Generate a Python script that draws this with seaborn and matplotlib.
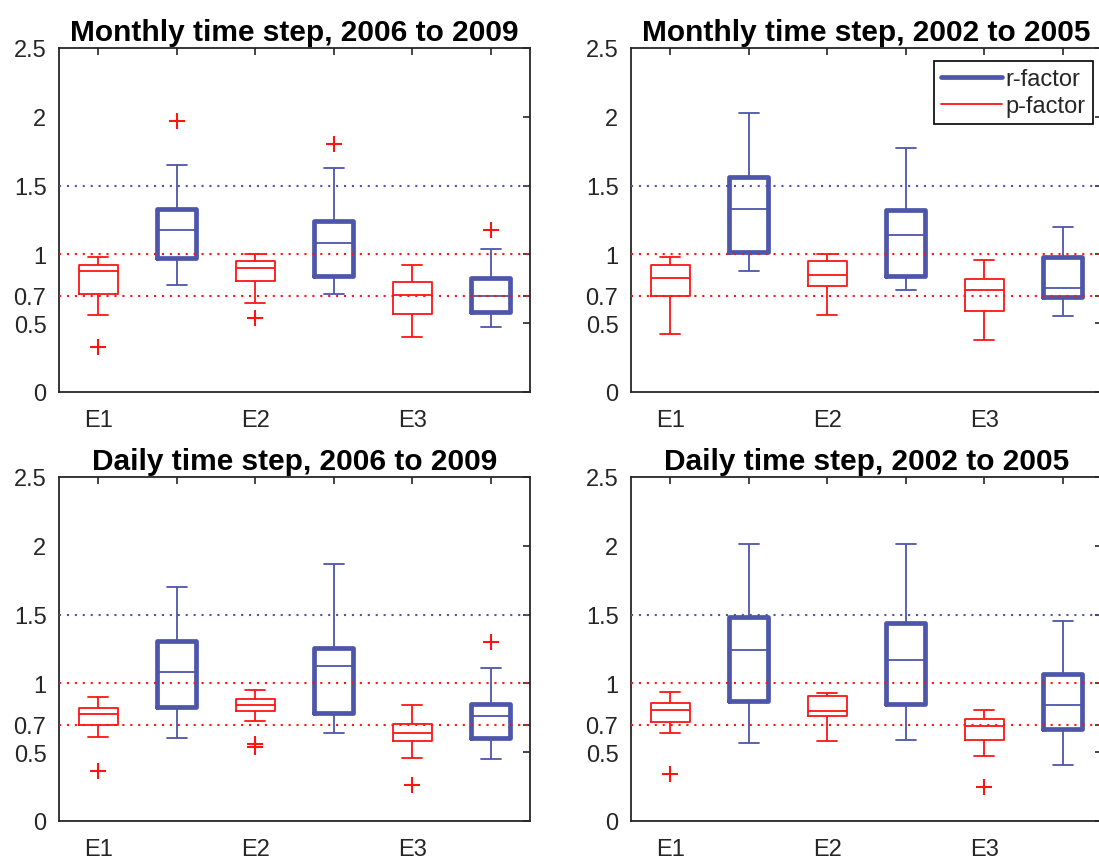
import numpy as np
import pandas as pd
import matplotlib
matplotlib.use("Agg")
import matplotlib.pyplot as plt
from matplotlib.lines import Line2D
import seaborn as sns

sns.set_style("white")
plt.rcParams["font.family"] = ["Liberation Sans", "DejaVu Sans"]

# box slots, p-factor and r-factor per experiment
slots = ["E1 p", "E1 r", "E2 p", "E2 r", "E3 p", "E3 r"]
slot_labels = ["E1", "", "E2", "", "E3", ""]
titles = ["Monthly time step, 2006 to 2009", "Monthly time step, 2002 to 2005",
          "Daily time step, 2006 to 2009", "Daily time step, 2002 to 2005"]

# each box: whisker low, Q1, median, Q3, whisker high  (E1, E2, E3)
mon0609_p = [[0.56, 0.71, 0.88, 0.92, 0.98], [0.65, 0.81, 0.90, 0.95, 1.00], [0.40, 0.57, 0.705, 0.80, 0.92]]
mon0609_r = [[0.78, 0.976, 1.18, 1.33, 1.65], [0.71, 0.84, 1.08, 1.24, 1.63], [0.47, 0.58, 0.70, 0.83, 1.04]]
mon0609_out = [("E1 p", 0.33), ("E1 r", 1.97), ("E2 p", 0.54), ("E2 r", 1.80), ("E3 r", 1.18)]

mon0205_p = [[0.42, 0.70, 0.83, 0.92, 0.98], [0.56, 0.77, 0.85, 0.95, 1.00], [0.38, 0.59, 0.74, 0.82, 0.96]]
mon0205_r = [[0.88, 1.02, 1.33, 1.56, 2.03], [0.74, 0.84, 1.14, 1.32, 1.77], [0.55, 0.69, 0.755, 0.98, 1.20]]
mon0205_out = []

day0609_p = [[0.61, 0.70, 0.78, 0.82, 0.90], [0.73, 0.80, 0.845, 0.885, 0.95], [0.46, 0.58, 0.64, 0.705, 0.84]]
day0609_r = [[0.60, 0.83, 1.08, 1.31, 1.70], [0.64, 0.785, 1.13, 1.26, 1.87], [0.45, 0.60, 0.76, 0.85, 1.11]]
day0609_out = [("E1 p", 0.36), ("E2 p", 0.56), ("E2 p", 0.54), ("E3 p", 0.26), ("E3 r", 1.30)]

day0205_p = [[0.64, 0.72, 0.81, 0.86, 0.94], [0.58, 0.76, 0.80, 0.905, 0.93], [0.47, 0.59, 0.69, 0.74, 0.81]]
day0205_r = [[0.57, 0.87, 1.24, 1.48, 2.01], [0.59, 0.85, 1.17, 1.44, 2.01], [0.41, 0.67, 0.84, 1.07, 1.45]]
day0205_out = [("E1 p", 0.34), ("E3 p", 0.25)]

red = "#ff1414"
blue = "#4d56aa"
grey = "#262626"


def long_frame(stats, tag):
    rows = []
    for g, five in zip(["E1", "E2", "E3"], stats):
        for v in five:
            rows.append({"slot": g + " " + tag, "value": v})
    return pd.DataFrame(rows)


panels = [(mon0609_p, mon0609_r, mon0609_out), (mon0205_p, mon0205_r, mon0205_out),
          (day0609_p, day0609_r, day0609_out), (day0205_p, day0205_r, day0205_out)]

fig = plt.figure(figsize=(10.99, 8.62), dpi=100)
W, H = 1099, 862
boxes = [(59, 49), (631, 49), (59, 478), (631, 478)]

for i, (p_stats, r_stats, outs) in enumerate(panels):
    left, top = boxes[i]
    ax = fig.add_axes([left / W, (H - top - 344) / H, 471 / W, 344 / H])

    sns.boxplot(data=long_frame(p_stats, "p"), x="slot", y="value", order=slots, ax=ax,
                color=red, fill=False, width=0.5, whis=np.inf, showfliers=False,
                linewidth=1.3)
    sns.boxplot(data=long_frame(r_stats, "r"), x="slot", y="value", order=slots, ax=ax,
                color=blue, fill=False, width=0.5, whis=np.inf, showfliers=False,
                linewidth=1.3, boxprops={"linewidth": 3.4})

    if outs:
        ox = [slots.index(s) for s, v in outs]
        oy = [v for s, v in outs]
        ax.plot(ox, oy, "+", color=red, markersize=11, markeredgewidth=1.5, zorder=4)

    ax.axhline(1.5, color=blue, lw=1.5, ls=(0, (1, 2.8)), zorder=3)
    ax.axhline(1.0, color=red, lw=1.5, ls=(0, (1, 2.8)), zorder=3)
    ax.axhline(0.7, color=red, lw=1.5, ls=(0, (1, 2.8)), zorder=3)

    ax.set_xlim(-0.5, 5.5)
    ax.set_ylim(0, 2.5)
    ax.set_xticks(range(6))
    ax.set_xticklabels(slot_labels)
    ax.set_yticks([0, 0.5, 0.7, 1, 1.5, 2, 2.5])
    ax.set_yticklabels(["0", "0.5", "0.7", "1", "1.5", "2", "2.5"])
    ax.set_xlabel("")
    ax.set_ylabel("")
    ax.tick_params(direction="in", top=True, right=True, length=5, width=1.2,
                   color=grey, labelcolor=grey, labelsize=17)
    ax.tick_params(axis="y", pad=9)
    ax.tick_params(axis="x", pad=12)
    for sp in ax.spines.values():
        sp.set_color(grey)
        sp.set_linewidth(1.3)
    ax.set_title(titles[i], fontsize=21.5, fontweight="bold", color="black", pad=6)

    if i == 1:
        handles = [Line2D([], [], color=blue, lw=3.4), Line2D([], [], color=red, lw=1.3)]
        leg = ax.legend(handles, ["r-factor", "p-factor"], loc="upper right",
                        bbox_to_anchor=(1 - 9 / 471, 1 - 13 / 344), borderaxespad=0,
                        fontsize=17, handlelength=2.6, handletextpad=0.15,
                        labelspacing=0.2, borderpad=0.3, fancybox=False,
                        framealpha=1, edgecolor="black")
        leg.get_frame().set_linewidth(1.2)
        for t in leg.get_texts():
            t.set_color(grey)

fig.savefig("out.png", dpi=100)
